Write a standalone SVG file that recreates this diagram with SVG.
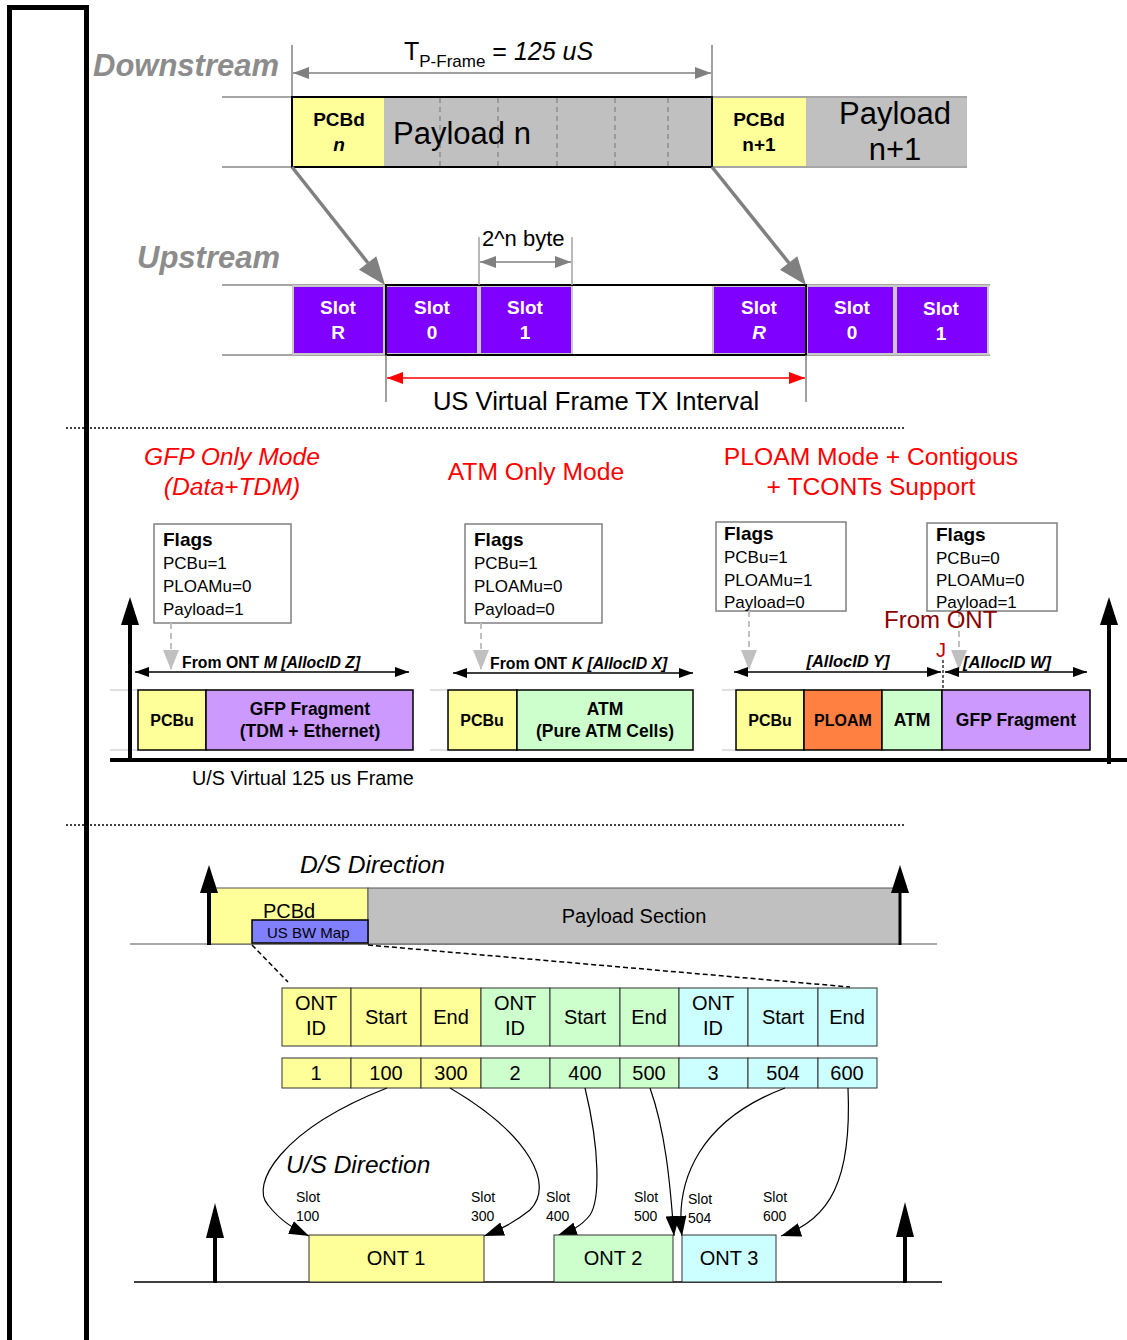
<svg xmlns="http://www.w3.org/2000/svg" width="1127" height="1340" viewBox="0 0 1127 1340">
<defs>
<style>
text{font-family:"Liberation Sans",Arial,sans-serif;fill:#000}
.b{font-weight:bold}
.i{font-style:italic}
.c{text-anchor:middle}
.gh{font-size:31px;font-weight:bold;font-style:italic;fill:#8c8c8c}
.slot{font-size:19px;font-weight:bold;fill:#fff;text-anchor:middle}
.red{font-size:24.7px;fill:#ff0000;text-anchor:middle}
.fl{font-size:17px}
.flh{font-size:19px;font-weight:bold}
.tb{font-size:20px;text-anchor:middle}
.sl{font-size:14px}
.gl{stroke:#a6a6a6;stroke-width:2;fill:none}
.yel{fill:#ffff99}
.gry{fill:#c0c0c0}
.pur{fill:#7f00ff;stroke:#c8c8c8;stroke-width:2}
.grn{fill:#ccffcc}
.cyn{fill:#ccffff}
.vio{fill:#cc99ff}
.box{stroke:#000;stroke-width:1.5}
.flag{fill:#fff;stroke:#808080;stroke-width:1.5}
.dash{stroke:#808080;stroke-width:1.2;stroke-dasharray:5,4}
.gdash{stroke:#c0c0c0;stroke-width:2;stroke-dasharray:6,4}
.cv{fill:none;stroke:#000;stroke-width:1.2}
</style>
<marker id="ga" markerWidth="16" markerHeight="12" refX="16" refY="6" orient="auto-start-reverse" markerUnits="userSpaceOnUse"><path d="M0,0 L16,6 L0,12 z" fill="#808080"/></marker>
<marker id="ra" markerWidth="16" markerHeight="12" refX="16" refY="6" orient="auto-start-reverse" markerUnits="userSpaceOnUse"><path d="M0,0 L16,6 L0,12 z" fill="#ff0000"/></marker>
<marker id="ba" markerWidth="14" markerHeight="10" refX="14" refY="5" orient="auto-start-reverse" markerUnits="userSpaceOnUse"><path d="M0,0 L14,5 L0,10 z" fill="#000"/></marker>
<marker id="ca" markerWidth="20" markerHeight="14" refX="20" refY="7" orient="auto" markerUnits="userSpaceOnUse"><path d="M0,0 L20,7 L0,14 z" fill="#000"/></marker>
<marker id="lg" markerWidth="16" markerHeight="20" refX="8" refY="20" orient="0" markerUnits="userSpaceOnUse"><path d="M0,0 L16,0 L8,20 z" fill="#c0c0c0"/></marker>
</defs>

<rect x="0" y="0" width="1127" height="1340" fill="#fff"/>
<rect id="leftbar" x="9.5" y="7.5" width="77" height="1340" fill="none" stroke="#000" stroke-width="5"/>

<!-- Top: downstream -->
<g id="downstream">
<text class="gh" x="93" y="76">Downstream</text>
<line class="gl" x1="222" y1="97" x2="967" y2="97"/>
<line class="gl" x1="222" y1="167" x2="967" y2="167"/>
<line x1="292" y1="45" x2="292" y2="98" stroke="#808080" stroke-width="1.5"/>
<line x1="712" y1="45" x2="712" y2="98" stroke="#808080" stroke-width="1.5"/>
<line x1="293" y1="73" x2="711" y2="73" stroke="#808080" stroke-width="1.5" marker-start="url(#ga)" marker-end="url(#ga)"/>
<text x="404" y="60" font-size="25">T<tspan font-size="17" dy="7">P-Frame</tspan><tspan dy="-7"> = </tspan><tspan class="i">125 uS</tspan></text>
</g>
<g id="frame-n">
<rect x="292" y="97" width="92" height="70" class="yel"/>
<rect x="384" y="97" width="328" height="70" class="gry"/>
<g class="dash"><line x1="440" y1="98" x2="440" y2="167"/><line x1="498" y1="98" x2="498" y2="167"/><line x1="557" y1="98" x2="557" y2="167"/><line x1="615" y1="98" x2="615" y2="167"/><line x1="668" y1="98" x2="668" y2="167"/></g>
<rect x="292" y="97" width="420" height="70" fill="none" stroke="#000" stroke-width="2"/>
<text class="b c" x="339" y="126" font-size="19">PCBd</text>
<text class="b i c" x="339" y="151" font-size="19">n</text>
<text x="393" y="144" font-size="31">Payload n</text>
</g>
<g id="frame-n1">
<rect x="713" y="98" width="93" height="68" class="yel"/>
<rect x="806" y="98" width="161" height="68" class="gry"/>
<text class="b c" x="759" y="126" font-size="19">PCBd</text>
<text class="b c" x="759" y="151" font-size="19">n+1</text>
<text class="c" x="895" y="124" font-size="31">Payload</text>
<text class="c" x="895" y="160" font-size="31">n+1</text>
</g>

<!-- Upstream -->
<g id="upstream">
<text class="gh" x="137" y="268">Upstream</text>
<line class="gl" x1="222" y1="285" x2="990" y2="285"/>
<line class="gl" x1="222" y1="355" x2="990" y2="355"/>
<rect x="293" y="286" width="91" height="68" class="pur"/>
<rect x="386" y="286" width="92" height="68" class="pur"/>
<rect x="480" y="286" width="92" height="68" class="pur"/>
<rect x="713" y="286" width="93" height="68" class="pur"/>
<rect x="807" y="286" width="87" height="68" class="pur"/>
<rect x="896" y="286" width="92" height="68" class="pur"/>
<rect x="386" y="285" width="420" height="70" fill="none" stroke="#000" stroke-width="2"/>
<text class="slot" x="338" y="314">Slot</text><text class="slot" x="338" y="339">R</text>
<text class="slot" x="432" y="314">Slot</text><text class="slot" x="432" y="339">0</text>
<text class="slot" x="525" y="314">Slot</text><text class="slot" x="525" y="339">1</text>
<text class="slot" x="759" y="314">Slot</text><text class="slot i" x="759" y="339">R</text>
<text class="slot" x="852" y="314">Slot</text><text class="slot" x="852" y="339">0</text>
<text class="slot" x="941" y="315">Slot</text><text class="slot" x="941" y="340">1</text>
<line x1="479" y1="237" x2="479" y2="285" stroke="#a0a0a0" stroke-width="1.5"/>
<line x1="572" y1="237" x2="572" y2="285" stroke="#a0a0a0" stroke-width="1.5"/>
<line x1="480" y1="262" x2="571" y2="262" stroke="#808080" stroke-width="1.5" marker-start="url(#ga)" marker-end="url(#ga)"/>
<text x="482" y="246" font-size="22">2^n byte</text>
<line x1="386" y1="355" x2="386" y2="402" stroke="#808080" stroke-width="1.5"/>
<line x1="806" y1="355" x2="806" y2="402" stroke="#808080" stroke-width="1.5"/>
<line x1="387" y1="378" x2="805" y2="378" stroke="#ff0000" stroke-width="1.5" marker-start="url(#ra)" marker-end="url(#ra)"/>
<text class="c" x="596" y="410" font-size="25.6">US Virtual Frame TX Interval</text>
</g>

<g id="connectors-top">
<line x1="292" y1="167" x2="368" y2="263" stroke="#808080" stroke-width="3.5"/>
<polygon points="385,285 358.9,269.8 376.3,256.2" fill="#808080"/>
<line x1="712" y1="167" x2="789" y2="263" stroke="#808080" stroke-width="3.5"/>
<polygon points="806,285 779.9,269.8 797.3,256.2" fill="#808080"/>
</g>

<line x1="66" y1="428" x2="905" y2="428" stroke="#000" stroke-width="1.5" stroke-dasharray="2,2"/>

<!-- Middle -->
<g id="headings">
<text class="red i" x="232" y="465">GFP Only Mode</text>
<text class="red i" x="232" y="495">(Data+TDM)</text>
<text class="red" x="536" y="480">ATM Only Mode</text>
<text class="red" x="871" y="465">PLOAM Mode + Contigous</text>
<text class="red" x="871" y="495">+ TCONTs Support</text>
</g>
<g id="flags1">
<rect class="flag" x="154" y="524" width="137" height="99"/>
<text class="flh" x="163" y="546">Flags</text>
<text class="fl" x="163" y="569">PCBu=1</text>
<text class="fl" x="163" y="592">PLOAMu=0</text>
<text class="fl" x="163" y="615">Payload=1</text>
</g>
<g id="flags2">
<rect class="flag" x="465" y="524" width="137" height="99"/>
<text class="flh" x="474" y="546">Flags</text>
<text class="fl" x="474" y="569">PCBu=1</text>
<text class="fl" x="474" y="592">PLOAMu=0</text>
<text class="fl" x="474" y="615">Payload=0</text>
</g>
<g id="flags3">
<rect class="flag" x="716" y="522" width="130" height="89"/>
<text class="flh" x="724" y="540">Flags</text>
<text class="fl" x="724" y="563">PCBu=1</text>
<text class="fl" x="724" y="586">PLOAMu=1</text>
<text class="fl" x="724" y="608">Payload=0</text>
</g>
<g id="flags4">
<rect class="flag" x="927" y="523" width="130" height="88"/>
<text class="flh" x="936" y="541">Flags</text>
<text class="fl" x="936" y="564">PCBu=0</text>
<text class="fl" x="936" y="586">PLOAMu=0</text>
<text class="fl" x="936" y="608">Payload=1</text>
</g>
<g id="gfp-frame">
<line x1="110" y1="690" x2="138" y2="690" stroke="#c0c0c0" stroke-width="1"/>
<line x1="110" y1="750" x2="138" y2="750" stroke="#c0c0c0" stroke-width="1"/>
<rect x="138" y="690" width="68" height="60" class="yel box"/>
<rect x="206" y="690" width="207" height="60" class="vio box"/>
<text class="b c" x="172" y="726" font-size="16">PCBu</text>
<text class="b c" x="310" y="715" font-size="17.5">GFP Fragment</text>
<text class="b c" x="310" y="737" font-size="17.5">(TDM + Ethernet)</text>
</g>
<g id="atm-frame">
<line x1="430" y1="690" x2="448" y2="690" stroke="#c0c0c0" stroke-width="1"/>
<line x1="430" y1="750" x2="448" y2="750" stroke="#c0c0c0" stroke-width="1"/>
<rect x="448" y="690" width="69" height="60" class="yel box"/>
<rect x="517" y="690" width="176" height="60" class="grn box"/>
<text class="b c" x="482" y="726" font-size="16">PCBu</text>
<text class="b c" x="605" y="715" font-size="17.5">ATM</text>
<text class="b c" x="605" y="737" font-size="17.5">(Pure ATM Cells)</text>
</g>
<g id="ploam-frame">
<line x1="722" y1="690" x2="736" y2="690" stroke="#c0c0c0" stroke-width="1"/>
<line x1="722" y1="750" x2="736" y2="750" stroke="#c0c0c0" stroke-width="1"/>
<rect x="736" y="690" width="68" height="60" class="yel box"/>
<rect x="804" y="690" width="78" height="60" fill="#ff8040" class="box"/>
<rect x="882" y="690" width="60" height="60" class="grn box"/>
<rect x="942" y="690" width="148" height="60" class="vio box"/>
<text class="b c" x="770" y="726" font-size="16">PCBu</text>
<text class="b c" x="843" y="726" font-size="16">PLOAM</text>
<text class="b c" x="912" y="726" font-size="17.5">ATM</text>
<text class="b c" x="1016" y="726" font-size="17.5">GFP Fragment</text>
</g>
<g id="mid-connectors">
<line class="gdash" x1="171" y1="623" x2="171" y2="670" marker-end="url(#lg)"/>
<line class="gdash" x1="481" y1="623" x2="481" y2="670" marker-end="url(#lg)"/>
<line class="gdash" x1="749" y1="611" x2="749" y2="670" marker-end="url(#lg)"/>
<line class="gdash" x1="959" y1="611" x2="959" y2="670" marker-end="url(#lg)"/>
<line x1="135" y1="672" x2="409" y2="672" stroke="#000" stroke-width="1.5" marker-start="url(#ba)" marker-end="url(#ba)"/>
<line x1="453" y1="673" x2="693" y2="673" stroke="#000" stroke-width="1.5" marker-start="url(#ba)" marker-end="url(#ba)"/>
<line x1="734" y1="672" x2="941" y2="672" stroke="#000" stroke-width="1.5" marker-start="url(#ba)" marker-end="url(#ba)"/>
<line x1="945" y1="672" x2="1087" y2="672" stroke="#000" stroke-width="1.5" marker-start="url(#ba)" marker-end="url(#ba)"/>
<line x1="943" y1="660" x2="943" y2="690" stroke="#000" stroke-width="1.2" stroke-dasharray="3,2"/>
</g>
<text class="b" x="182" y="668" font-size="15.8">From ONT <tspan class="i">M [AllocID Z]</tspan></text>
<text class="b" x="490" y="669" font-size="15.8">From ONT <tspan class="i">K [AllocID X]</tspan></text>
<text class="b i c" x="848" y="667" font-size="16.5">[AllocID Y]</text>
<text class="b i" x="963" y="668" font-size="16.5">[AllocID W]</text>
<text x="884" y="628" font-size="24" style="fill:#8b0000">From ONT</text>
<text x="936" y="657" font-size="20" style="fill:#c00000">J</text>
<g id="mid-axis">
<line x1="110" y1="760" x2="1127" y2="760" stroke="#000" stroke-width="4"/>
<line x1="130" y1="762" x2="130" y2="620" stroke="#000" stroke-width="4"/>
<polygon points="130,597 121,625 139,625" fill="#000"/>
<line x1="1109" y1="764" x2="1109" y2="620" stroke="#000" stroke-width="4"/>
<polygon points="1109,597 1100,625 1118,625" fill="#000"/>
<text x="192" y="785" font-size="19.8">U/S Virtual 125 us Frame</text>
</g>

<line x1="66" y1="825" x2="905" y2="825" stroke="#000" stroke-width="1.5" stroke-dasharray="2,2"/>

<!-- Bottom -->
<g id="ds-frame">
<text class="i" x="300" y="873" font-size="24.6">D/S Direction</text>
<line x1="130" y1="944" x2="937" y2="944" stroke="#555" stroke-width="1.2"/>
<rect x="210" y="888" width="158" height="56" class="yel" stroke="#555" stroke-width="1"/>
<rect x="368" y="888" width="532" height="56" class="gry" stroke="#555" stroke-width="1"/>
<text x="263" y="918" font-size="20">PCBd</text>
<rect x="252" y="920" width="116" height="23" fill="#8080ff" stroke="#000" stroke-width="1.5"/>
<text x="267" y="938" font-size="15">US BW Map</text>
<text class="c" x="634" y="923" font-size="20">Payload Section</text>
<line x1="209" y1="945" x2="209" y2="890" stroke="#000" stroke-width="4"/>
<polygon points="209,865 200,893 218,893" fill="#000"/>
<line x1="900" y1="945" x2="900" y2="890" stroke="#000" stroke-width="3"/>
<polygon points="900,865 891,893 909,893" fill="#000"/>
<line x1="252" y1="945" x2="288" y2="982" stroke="#000" stroke-width="1.5" stroke-dasharray="5,3"/>
<line x1="368" y1="945" x2="850" y2="987" stroke="#000" stroke-width="1.5" stroke-dasharray="5,3"/>
</g>
<g id="bwmap-table">
<g stroke="#333" stroke-width="1">
<rect x="282" y="988" width="69" height="58" class="yel"/>
<rect x="351" y="988" width="70" height="58" class="yel"/>
<rect x="421" y="988" width="60" height="58" class="yel"/>
<rect x="481" y="988" width="69" height="58" class="grn"/>
<rect x="550" y="988" width="70" height="58" class="grn"/>
<rect x="620" y="988" width="59" height="58" class="grn"/>
<rect x="679" y="988" width="69" height="58" class="cyn"/>
<rect x="748" y="988" width="70" height="58" class="cyn"/>
<rect x="818" y="988" width="59" height="58" class="cyn"/>
<rect x="282" y="1058" width="69" height="30" class="yel"/>
<rect x="351" y="1058" width="70" height="30" class="yel"/>
<rect x="421" y="1058" width="60" height="30" class="yel"/>
<rect x="481" y="1058" width="69" height="30" class="grn"/>
<rect x="550" y="1058" width="70" height="30" class="grn"/>
<rect x="620" y="1058" width="59" height="30" class="grn"/>
<rect x="679" y="1058" width="69" height="30" class="cyn"/>
<rect x="748" y="1058" width="70" height="30" class="cyn"/>
<rect x="818" y="1058" width="59" height="30" class="cyn"/>
</g>
<text class="tb" x="316" y="1010">ONT</text><text class="tb" x="316" y="1035">ID</text>
<text class="tb" x="386" y="1024">Start</text>
<text class="tb" x="451" y="1024">End</text>
<text class="tb" x="515" y="1010">ONT</text><text class="tb" x="515" y="1035">ID</text>
<text class="tb" x="585" y="1024">Start</text>
<text class="tb" x="649" y="1024">End</text>
<text class="tb" x="713" y="1010">ONT</text><text class="tb" x="713" y="1035">ID</text>
<text class="tb" x="783" y="1024">Start</text>
<text class="tb" x="847" y="1024">End</text>
<text class="tb" x="316" y="1080">1</text>
<text class="tb" x="386" y="1080">100</text>
<text class="tb" x="451" y="1080">300</text>
<text class="tb" x="515" y="1080">2</text>
<text class="tb" x="585" y="1080">400</text>
<text class="tb" x="649" y="1080">500</text>
<text class="tb" x="713" y="1080">3</text>
<text class="tb" x="783" y="1080">504</text>
<text class="tb" x="847" y="1080">600</text>
</g>
<g id="us-connectors">
<path class="cv" d="M387,1088 C280,1130 250,1185 268,1205 C280,1220 292,1228 309,1236" marker-end="url(#ca)"/>
<path class="cv" d="M450,1088 C530,1135 555,1185 530,1210 C515,1222 500,1230 484,1236" marker-end="url(#ca)"/>
<path class="cv" d="M585,1088 C600,1150 600,1200 590,1215 C580,1228 568,1232 557,1236" marker-end="url(#ca)"/>
<path class="cv" d="M650,1088 C665,1130 670,1180 674,1236" marker-end="url(#ca)"/>
<path class="cv" d="M785,1088 C700,1120 675,1180 682,1236" marker-end="url(#ca)"/>
<path class="cv" d="M848,1088 C852,1180 830,1220 781,1236" marker-end="url(#ca)"/>
</g>
<g id="us-frame">
<text class="i" x="286" y="1173" font-size="24.5">U/S Direction</text>
<text class="sl" x="296" y="1202">Slot</text><text class="sl" x="296" y="1221">100</text>
<text class="sl" x="471" y="1202">Slot</text><text class="sl" x="471" y="1221">300</text>
<text class="sl" x="546" y="1202">Slot</text><text class="sl" x="546" y="1221">400</text>
<text class="sl" x="634" y="1202">Slot</text><text class="sl" x="634" y="1221">500</text>
<text class="sl" x="688" y="1204">Slot</text><text class="sl" x="688" y="1223">504</text>
<text class="sl" x="763" y="1202">Slot</text><text class="sl" x="763" y="1221">600</text>
<line x1="134" y1="1282" x2="942" y2="1282" stroke="#000" stroke-width="1.5"/>
<line x1="215" y1="1283" x2="215" y2="1228" stroke="#000" stroke-width="4"/>
<polygon points="215,1203 206,1238 224,1238" fill="#000"/>
<line x1="905" y1="1283" x2="905" y2="1228" stroke="#000" stroke-width="4"/>
<polygon points="905,1202 896,1237 914,1237" fill="#000"/>
</g>
<g id="ont1"><rect x="309" y="1235" width="175" height="47" class="yel" stroke="#333" stroke-width="1"/><text class="tb" x="396" y="1265">ONT 1</text></g>
<g id="ont2"><rect x="554" y="1235" width="119" height="47" class="grn" stroke="#333" stroke-width="1"/><text class="tb" x="613" y="1265">ONT 2</text></g>
<g id="ont3"><rect x="682" y="1235" width="94" height="47" class="cyn" stroke="#333" stroke-width="1"/><text class="tb" x="729" y="1265">ONT 3</text></g>
</svg>
